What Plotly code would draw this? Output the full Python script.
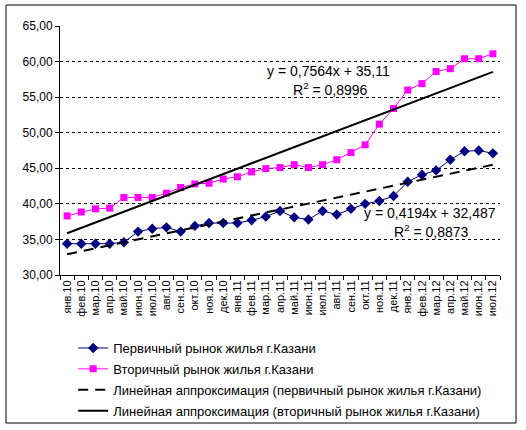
import plotly.graph_objects as go

# Months Jan 2010 - Jul 2012
months = ["янв.10", "фев.10", "мар.10", "апр.10", "май.10", "июн.10", "июл.10",
          "авг.10", "сен.10", "окт.10", "ноя.10", "дек.10",
          "янв.11", "фев.11", "мар.11", "апр.11", "май.11", "июн.11", "июл.11",
          "авг.11", "сен.11", "окт.11", "ноя.11", "дек.11",
          "янв.12", "фев.12", "мар.12", "апр.12", "май.12", "июн.12", "июл.12"]

primary = [34.4, 34.4, 34.4, 34.4, 34.6, 36.1, 36.5, 36.7, 36.1, 36.9, 37.3,
           37.3, 37.3, 37.7, 38.2, 39.0, 38.1, 37.8, 39.0, 38.5, 39.3, 40.0,
           40.4, 41.1, 43.1, 44.1, 44.7, 46.2, 47.4, 47.5, 47.1]

secondary = [38.3, 38.85, 39.3, 39.4, 40.9, 40.9, 40.9, 41.5, 42.3, 42.8, 42.9,
             43.5, 43.8, 44.5, 44.95, 45.1, 45.5, 45.1, 45.5, 46.2, 47.2, 48.3,
             51.2, 53.4, 56.0, 56.9, 58.6, 59.0, 60.4, 60.4, 61.1]

# trend line coefficients as printed on the chart
trend_primary = (0.4194, 32.487)
trend_secondary = (0.7564, 35.11)

y_ticks = [30, 35, 40, 45, 50, 55, 60, 65]
y_labels = ["30,00", "35,00", "40,00", "45,00", "50,00", "55,00", "60,00", "65,00"]

ends = [months[0], months[-1]]
n = len(months)

fig = go.Figure()
fig.add_trace(go.Scatter(
    x=months, y=primary, mode="lines+markers",
    name="Первичный рынок жилья г.Казани", legendgroup="a",
    line=dict(color="#000080", width=1),
    marker=dict(symbol="diamond", size=8, color="#000080")))
fig.add_trace(go.Scatter(
    x=months, y=secondary, mode="lines+markers",
    name="Вторичный рынок жилья г.Казани", legendgroup="b",
    line=dict(color="#FF00FF", width=1),
    marker=dict(symbol="square", size=7, color="#FF00FF")))
fig.add_trace(go.Scatter(
    x=ends, y=[trend_primary[0] * 1 + trend_primary[1], trend_primary[0] * n + trend_primary[1]],
    mode="lines", name="Линейная аппроксимация (первичный рынок жилья г.Казани)",
    legendgroup="c", line=dict(color="black", width=2, dash="10px,7px")))
fig.add_trace(go.Scatter(
    x=ends, y=[trend_secondary[0] * 1 + trend_secondary[1], trend_secondary[0] * n + trend_secondary[1]],
    mode="lines", name="Линейная аппроксимация (вторичный рынок жилья г.Казани)",
    legendgroup="d", line=dict(color="black", width=2)))

font = "Liberation Sans, Arial, sans-serif"


def note(x, y, text):
    return dict(xref="paper", yref="paper", x=x, y=y, showarrow=False,
                xanchor="center", yanchor="middle", text=text, font=dict(size=14))


fig.update_layout(
    width=526, height=430,
    margin=dict(l=60, r=26, t=26, b=155, autoexpand=False),
    paper_bgcolor="white", plot_bgcolor="white",
    font=dict(family=font, size=11, color="black"),
    showlegend=True,
    legend=dict(x=0.03, y=-0.233, xanchor="left", yanchor="top",
                font=dict(size=13), tracegroupgap=1, bgcolor="rgba(0,0,0,0)"),
    xaxis=dict(type="category", range=[-0.5, n - 0.5], tickson="boundaries",
               ticks="outside", ticklen=4, tickcolor="black", tickangle=-90,
               showline=True, linecolor="black", linewidth=1,
               showgrid=False, tickfont=dict(size=11)),
    yaxis=dict(range=[30, 65], tickvals=y_ticks, ticktext=y_labels,
               ticks="outside", ticklen=4, tickcolor="black",
               showline=True, linecolor="black", linewidth=1,
               showgrid=True, gridcolor="black", gridwidth=1, griddash="3px,3px",
               zeroline=False, tickfont=dict(size=12)),
    annotations=[
        note(0.61, 0.82, "y = 0,7564x + 35,11"),
        note(0.615, 0.745, "R<sup>2</sup> = 0,8996"),
        note(0.84, 0.25, "y = 0,4194x + 32,487"),
        note(0.845, 0.175, "R<sup>2</sup> = 0,8873"),
    ],
    shapes=[dict(type="rect", xref="paper", yref="paper",
                 x0=-0.1227, x1=1.0364, y0=-0.5944, y1=1.0843,
                 line=dict(color="black", width=1))],
)

fig.write_html("out.html", config={"displayModeBar": False},
               post_script="document.body.style.margin='0';")
